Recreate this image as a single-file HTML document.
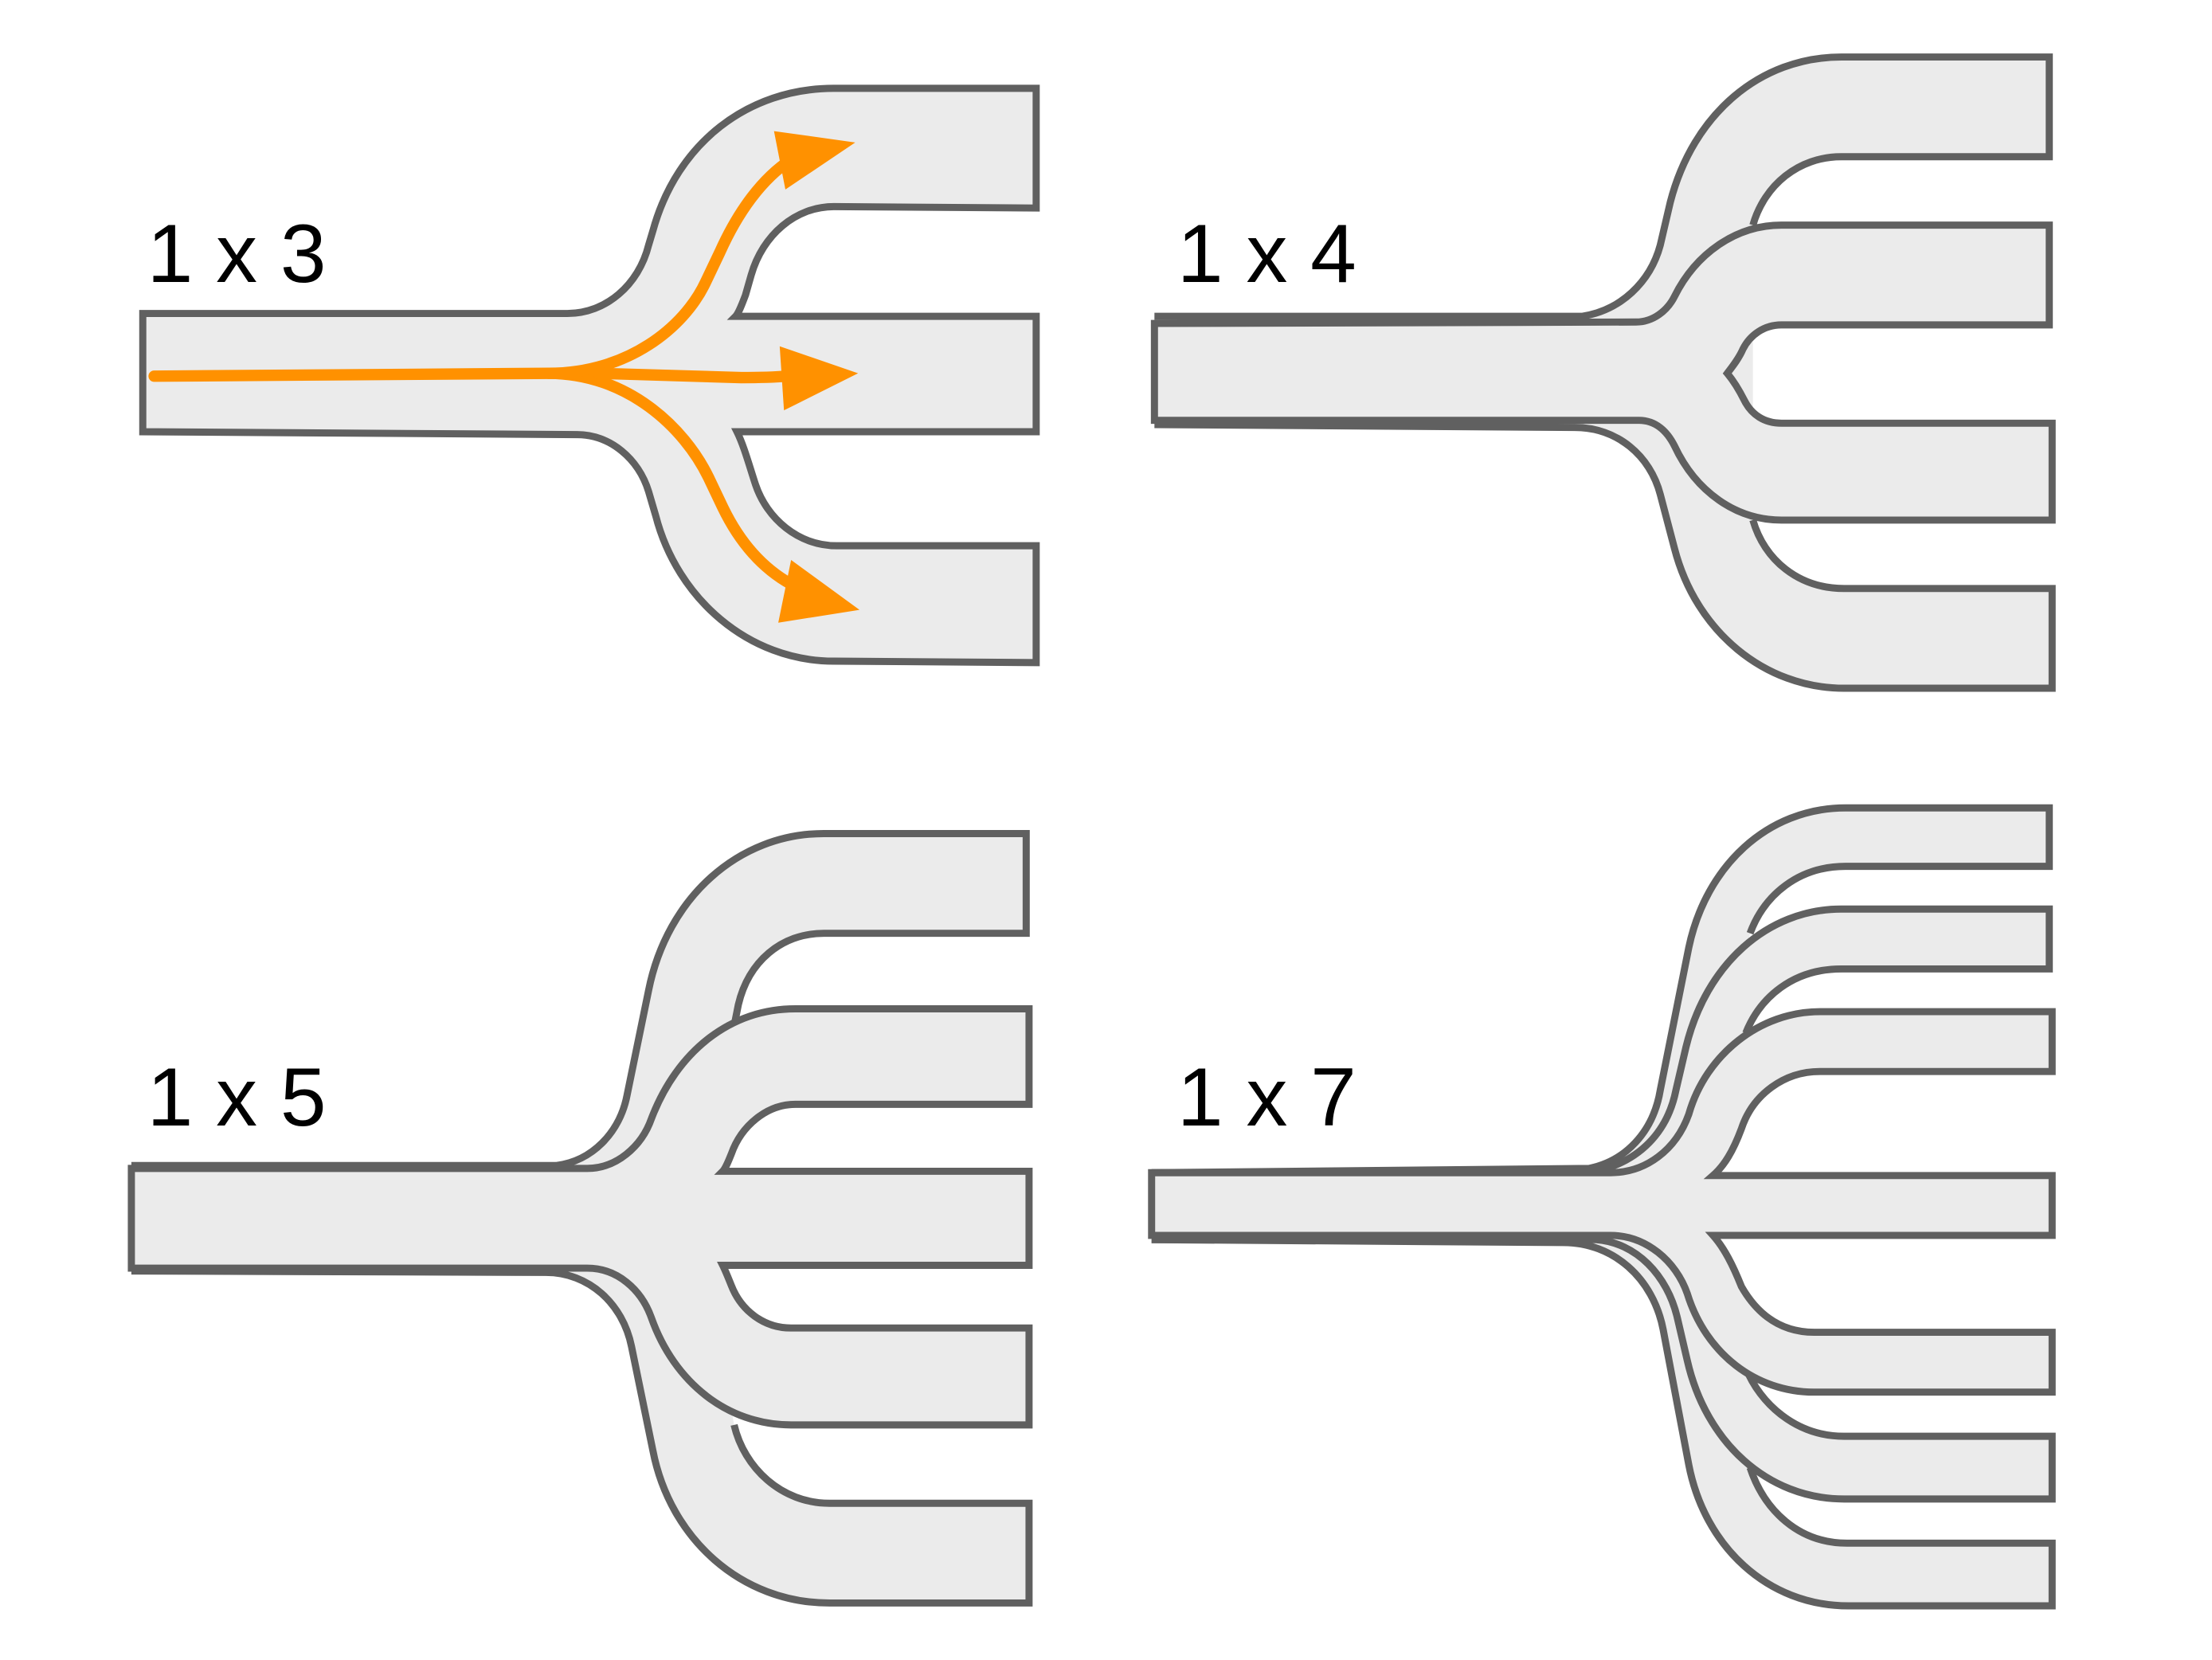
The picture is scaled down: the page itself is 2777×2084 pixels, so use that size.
<!DOCTYPE html>
<html><head><meta charset="utf-8"><style>
html,body{margin:0;padding:0;background:#fff;}
svg{display:block;}
text{font-family:"Liberation Sans",Arial,sans-serif;font-size:58px;fill:#000;}
</style></head><body>
<svg width="2777" height="2084" viewBox="0 0 1552 1165" xmlns="http://www.w3.org/2000/svg">
<g stroke="#606060" stroke-width="5" stroke-linejoin="miter">
<!-- 1x3 -->
<path fill="#ebebeb" d="M100,220 L398,220 C425,220 448,200 455,172 L458,162 C475,100 525,62 585,62 L727,62 L727,146 L585,145 C558,145 535,165 527,193 L523,207 C520,215 518,220 516,222 L727,222 L727,303 L517,303 C522,313 526,328 530,340 C538,364 560,383 587,383 L727,383 L727,465 L585,464 C525,464 475,420 460,362 L455,345 C448,322 428,305 405,305 L100,303 Z"/>
<!-- 1x4 outer -->
<path fill="#ebebeb" stroke="none" d="M810,222 L1110,222 C1137,218 1158,198 1165,172 L1172,142 C1188,80 1235,40 1292,40 L1438,40 L1438,110 L1292,110 C1262,110 1238,130 1230,158 L1230,365 C1238,393 1262,413 1294,413 L1440,413 L1440,483 L1294,483 C1238,483 1190,443 1175,385 L1165,347 C1158,320 1135,300 1105,300 L810,298 Z"/>
<path fill="none" d="M810,222 L1110,222 C1137,218 1158,198 1165,172 L1172,142 C1188,80 1235,40 1292,40 L1438,40 L1438,110 L1292,110 C1262,110 1238,130 1230,158 M1230,365 C1238,393 1262,413 1294,413 L1440,413 L1440,483 L1294,483 C1238,483 1190,443 1175,385 L1165,347 C1158,320 1135,300 1105,300 L810,298"/>
<path fill="#ebebeb" d="M810,227 L1148,226 C1160,226 1170,218 1175,208 C1190,178 1218,158 1250,158 L1438,158 L1438,228 L1250,228 C1238,228 1228,235 1223,245 C1220,252 1215,258 1212,262 C1217,268 1221,275 1224,281 C1229,291 1238,297 1250,297 L1440,297 L1440,365 L1250,365 C1218,365 1190,345 1175,313 C1170,303 1162,295 1150,295 L810,295 Z"/>
<!-- 1x5 outer -->
<path fill="#ebebeb" stroke="none" d="M92,818 L390,818 C415,815 435,795 440,768 L455,695 C468,630 518,585 578,585 L720,585 L720,655 L578,655 C548,655 525,675 518,705 L515,720 L495,822 L495,888 L515,1000 C522,1030 548,1055 582,1055 L722,1055 L722,1125 L582,1125 C520,1125 470,1080 458,1018 L443,945 C437,915 413,893 383,893 L92,892 Z"/>
<path fill="none" d="M92,818 L390,818 C415,815 435,795 440,768 L455,695 C468,630 518,585 578,585 L720,585 L720,655 L578,655 C548,655 525,675 518,705 L515,720 M515,1000 C522,1030 548,1055 582,1055 L722,1055 L722,1125 L582,1125 C520,1125 470,1080 458,1018 L443,945 C437,915 413,893 383,893 L92,892"/>
<path fill="#ebebeb" d="M92,820 L412,820 C432,820 450,805 457,785 C475,738 512,708 558,708 L722,708 L722,775 L558,775 C538,775 520,790 513,810 C511,815 509,820 507,822 L722,822 L722,888 L507,888 C509,892 511,897 513,902 C520,920 536,932 555,932 L722,932 L722,1000 L555,1000 C510,1000 473,970 457,925 C450,905 433,890 412,890 L92,890 Z"/>
<!-- 1x7 outer -->
<path fill="#ebebeb" stroke="none" d="M808,823 L1115,820 C1140,815 1160,795 1165,765 L1185,665 C1197,608 1240,567 1295,567 L1438,567 L1438,608 L1295,608 C1262,608 1238,628 1228,655 L1210,760 L1195,825 L1195,867 L1210,935 L1228,1030 C1238,1060 1262,1083 1296,1083 L1440,1083 L1440,1127 L1297,1127 C1240,1127 1196,1085 1185,1028 L1167,933 C1160,897 1132,872 1097,872 L808,870 Z"/>
<path fill="none" d="M808,823 L1115,820 C1140,815 1160,795 1165,765 L1185,665 C1197,608 1240,567 1295,567 L1438,567 L1438,608 L1295,608 C1262,608 1238,628 1228,655 M1228,1030 C1238,1060 1262,1083 1296,1083 L1440,1083 L1440,1127 L1297,1127 C1240,1127 1196,1085 1185,1028 L1167,933 C1160,897 1132,872 1097,872 L808,870"/>
<!-- 1x7 second -->
<path fill="#ebebeb" stroke="none" d="M808,823 L1120,822 C1150,815 1170,795 1176,765 L1183,735 C1197,677 1240,638 1292,638 L1438,638 L1438,680 L1292,680 C1258,680 1235,700 1225,725 L1212,760 L1195,825 L1195,867 L1212,935 L1225,960 C1235,985 1260,1008 1294,1008 L1440,1008 L1440,1052 L1294,1052 C1240,1052 1197,1012 1184,955 L1177,925 C1170,895 1148,872 1120,870 L808,870 Z"/>
<path fill="none" d="M808,823 L1120,822 C1150,815 1170,795 1176,765 L1183,735 C1197,677 1240,638 1292,638 L1438,638 L1438,680 L1292,680 C1258,680 1235,700 1225,725 M1225,960 C1235,985 1260,1008 1294,1008 L1440,1008 L1440,1052 L1294,1052 C1240,1052 1197,1012 1184,955 L1177,925 C1170,895 1148,872 1120,870 L808,870"/>
<!-- 1x7 third -->
<path fill="#ebebeb" d="M808,823 L1130,823 C1155,823 1176,807 1185,782 C1197,740 1235,710 1277,710 L1440,710 L1440,752 L1277,752 C1252,752 1230,768 1222,792 C1216,808 1210,818 1202,825 L1440,825 L1440,867 L1202,867 C1210,876 1216,888 1222,903 C1230,917 1245,935 1273,935 L1440,935 L1440,977 L1273,977 C1232,977 1197,950 1184,908 C1176,885 1155,867 1130,867 L808,867 Z"/>
</g>
<!-- orange arrows -->
<g fill="none" stroke="#ff9100" stroke-width="8" stroke-linecap="round">
<path d="M108,264 L385,262 C440,262 480,300 497,335 L507,356 C520,383 537,400 555,410"/>
<path d="M385,262 C440,262 480,230 495,198 L505,177 C518,148 535,125 555,112"/>
<path d="M420,262 L520,265 C530,265 540,265 552,264"/>
</g>
<g fill="#ff9100">
<polygon points="543,92 600,100 551,133"/>
<polygon points="547,243 602,262 550,288"/>
<polygon points="555,393 603,428 546,437"/>
</g>
<text x="103" y="198">1 x 3</text>
<text x="826" y="198">1 x 4</text>
<text x="103" y="790">1 x 5</text>
<text x="826" y="790">1 x 7</text>
</svg>
</body></html>
